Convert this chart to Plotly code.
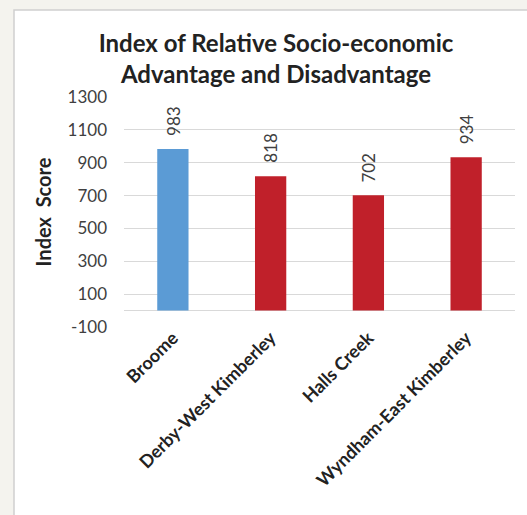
import plotly.graph_objects as go

categories = ["Broome", "Derby-West Kimberley", "Halls Creek", "Wyndham-East Kimberley"]
scores = [983, 818, 702, 934]
bar_colors = ["#5B9BD5", "#C0202A", "#C0202A", "#C0202A"]
tick_vals = [-100, 100, 300, 500, 700, 900, 1100, 1300]
tick_text = ["-100", "100", "300", "500", "700", "900", "1100", "1300"]

W, H = 527, 515
L, R, T, B = 124, 12, 97, 188
pw, ph = W - L - R, H - T - B
FONT = "Lato, Open Sans, Arial"

fig = go.Figure(go.Bar(
    x=categories, y=scores, marker_color=bar_colors, marker_line_width=0,
))

for c, v in zip(categories, scores):
    fig.add_annotation(x=c, y=v, text=str(v), showarrow=False, textangle=-90,
                       xanchor="center", yanchor="bottom", yshift=11,
                       font=dict(family=FONT, size=17, color="#404040"))

fig.update_layout(
    width=W, height=H,
    margin=dict(l=L, r=R, t=T, b=B),
    paper_bgcolor="#F4F3EE", plot_bgcolor="white",
    bargap=0.68, showlegend=False,
    title=dict(text="<b>Index of Relative Socio-economic<br>Advantage and Disadvantage</b>",
               x=276 / W, xanchor="center", y=1 - 52 / H, yanchor="middle",
               font=dict(family=FONT, size=24, color="#222222")),
    yaxis=dict(range=[-100, 1300], tickvals=tick_vals, ticktext=tick_text, showgrid=True,
               gridcolor="#D9D9D9", gridwidth=1, zeroline=True, zerolinecolor="#D9D9D9",
               zerolinewidth=1, showline=False, ticks="", ticklabelstandoff=16,
               tickfont=dict(family=FONT, size=17, color="#404040"),
               title=dict(text="<b>Index  Score</b>", standoff=10,
                          font=dict(family=FONT, size=20, color="#222222"))),
    xaxis=dict(tickangle=-45, showline=False, ticks="", ticklabelstandoff=-4,
               tickvals=categories, ticktext=["<b>%s</b>" % c for c in categories],
               tickfont=dict(family=FONT, size=18, color="#222222")),
    shapes=[dict(type="rect", xref="paper", yref="paper",
                 x0=(14 - L) / pw, x1=(W + 5 - L) / pw,
                 y0=(H - B - (H + 5)) / ph, y1=(H - B - 10) / ph,
                 fillcolor="white", line=dict(color="#D0D0D0", width=1.5), layer="below")],
)

fig.write_html("out.html")
